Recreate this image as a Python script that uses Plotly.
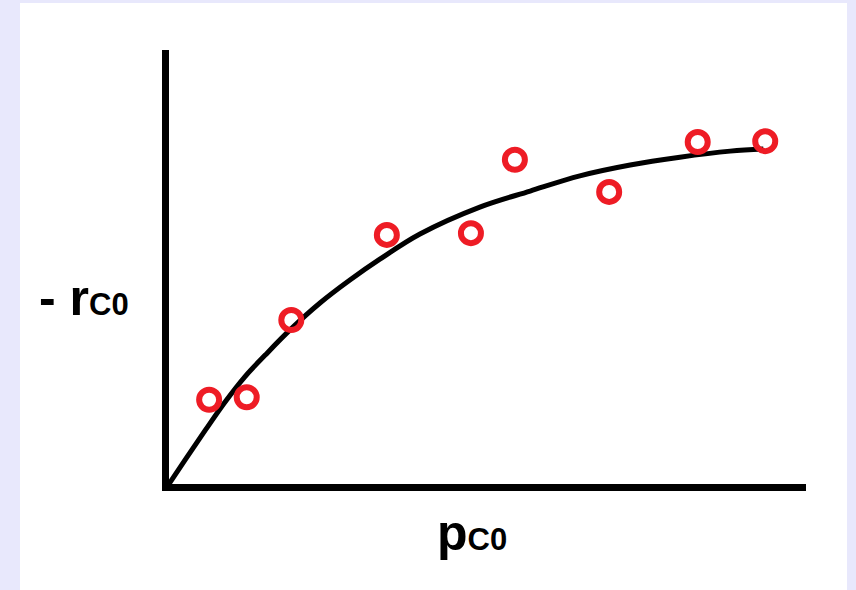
import plotly.graph_objects as go

# Measured data points (arbitrary units)
pt_x = [0.63, 1.22, 1.92, 3.42, 4.74, 5.43, 6.91, 8.30, 9.36]
pt_y = [1.94, 2.00, 3.78, 5.74, 5.78, 7.47, 6.73, 7.88, 7.90]

# Fitted curve
curve_x = [0.0, 0.25, 0.57, 0.88, 1.19, 1.51, 1.90, 2.37, 2.84, 3.31, 3.94, 4.88, 5.67, 6.45, 7.24, 8.02, 8.81, 9.33]
curve_y = [0.0, 0.55, 1.24, 1.89, 2.47, 2.97, 3.55, 4.17, 4.70, 5.18, 5.76, 6.38, 6.75, 7.10, 7.35, 7.53, 7.67, 7.72]

x_label = "<b>p<span style='font-size:31px'>C0</span></b>"
y_label = "<b>- r<span style='font-size:31px'>C0</span></b>"

fig = go.Figure()
fig.add_trace(go.Scatter(x=curve_x, y=curve_y, mode="lines",
                         line=dict(color="black", width=5, shape="spline"),
                         hoverinfo="skip", cliponaxis=False))
fig.add_trace(go.Scatter(x=pt_x, y=pt_y, mode="markers",
                         marker=dict(size=20, color="rgba(0,0,0,0)",
                                     line=dict(color="#EE1C25", width=6)),
                         cliponaxis=False))

font_family = "Liberation Sans, Arial, sans-serif"
fig.update_layout(
    width=856, height=590,
    margin=dict(l=169, r=50, t=50, b=106),
    paper_bgcolor="#E8E8FC",
    plot_bgcolor="white",
    showlegend=False,
    xaxis=dict(range=[0, 10], showline=True, linecolor="black", linewidth=7,
               showgrid=False, zeroline=False, showticklabels=False, ticks=""),
    yaxis=dict(range=[0, 10], showline=True, linecolor="black", linewidth=7,
               showgrid=False, zeroline=False, showticklabels=False, ticks=""),
    shapes=[dict(type="rect", xref="paper", yref="paper", layer="below",
                 x0=(20-169)/637, x1=(847-169)/637, y0=-106/434, y1=(484-3)/434,
                 fillcolor="white", line=dict(width=0))],
    annotations=[
        dict(text=x_label, xref="paper", yref="paper", x=(472-169)/637, y=(484-533)/434,
             showarrow=False, xanchor="center", yanchor="middle",
             font=dict(family=font_family, size=50, color="black")),
        dict(text=y_label, xref="paper", yref="paper", x=(37-169)/637, y=(484-298)/434,
             showarrow=False, xanchor="left", yanchor="middle",
             font=dict(family=font_family, size=50, color="black")),
    ],
)
fig.write_html("out.html", config={"displayModeBar": False},
               post_script="document.body.style.margin='0';document.body.style.background='#E8E8FC';")
